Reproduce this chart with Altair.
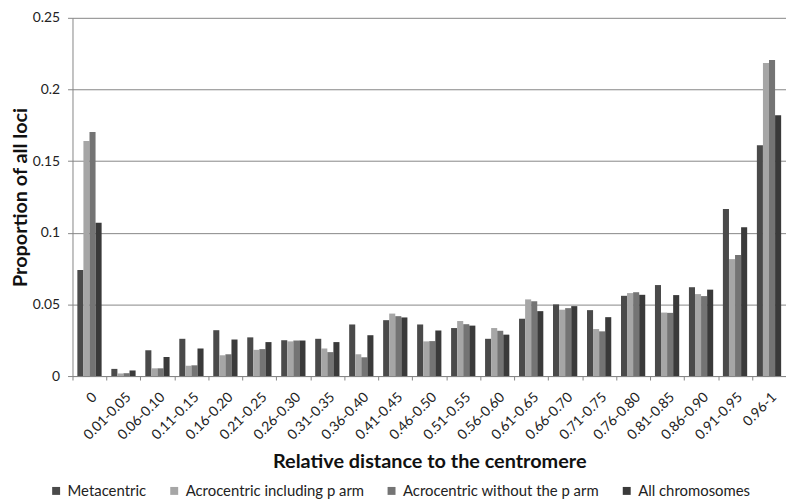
import altair as alt
import pandas as pd

categories = ["0", "0.01-0.05", "0.06-0.10", "0.11-0.15", "0.16-0.20", "0.21-0.25",
              "0.26-0.30", "0.31-0.35", "0.36-0.40", "0.41-0.45", "0.46-0.50",
              "0.51-0.55", "0.56-0.60", "0.61-0.65", "0.66-0.70", "0.71-0.75",
              "0.76-0.80", "0.81-0.85", "0.86-0.90", "0.91-0.95", "0.96-1"]

series = ["Metacentric", "Acrocentric including p arm",
          "Acrocentric without the p arm", "All chromosomes"]

metacentric = [0.074, 0.005, 0.018, 0.026, 0.032, 0.027, 0.025, 0.026, 0.036, 0.039, 0.036,
               0.0335, 0.026, 0.040, 0.050, 0.046, 0.056, 0.0635, 0.062, 0.1165, 0.161]
acro_incl_p = [0.164, 0.0018, 0.0054, 0.0072, 0.0145, 0.0183, 0.0242, 0.0192, 0.0152, 0.0436, 0.0242,
               0.0384, 0.0335, 0.0535, 0.0463, 0.0328, 0.0579, 0.0443, 0.0572, 0.0816, 0.2184]
acro_without_p = [0.1703, 0.002, 0.0054, 0.0075, 0.0152, 0.0188, 0.0248, 0.0167, 0.0131, 0.0418, 0.0244,
                  0.0362, 0.0316, 0.0522, 0.0474, 0.0312, 0.0585, 0.0441, 0.0558, 0.0845, 0.2205]
all_chrom = [0.107, 0.0039, 0.0133, 0.0192, 0.0255, 0.0237, 0.0248, 0.0237, 0.0285, 0.0409, 0.0318,
             0.0352, 0.0289, 0.0453, 0.0488, 0.0411, 0.0567, 0.0565, 0.0603, 0.1039, 0.182]

colors = ["#4a4a4a", "#a6a6a6", "#747474", "#3a3a3a"]

rows = []
for s, vals in zip(series, [metacentric, acro_incl_p, acro_without_p, all_chrom]):
    for c, v in zip(categories, vals):
        rows.append({"cat": c, "series": s, "value": v})
df = pd.DataFrame(rows)

FONT = "Lato"

chart = alt.Chart(df).mark_bar().encode(
    x=alt.X("cat:N", sort=categories,
            scale=alt.Scale(paddingInner=0, paddingOuter=0),
            axis=alt.Axis(title="Relative distance to the centromere", labelAngle=-45,
                          tickBand="extent", labelPadding=10, tickSize=4,
                          titleY=86, titleBaseline="middle")),
    xOffset=alt.XOffset("series:N", sort=series,
                        scale=alt.Scale(paddingInner=0, paddingOuter=0.8)),
    y=alt.Y("value:Q", scale=alt.Scale(domain=[0, 0.25]),
            axis=alt.Axis(title="Proportion of all loci", values=[0, 0.05, 0.1, 0.15, 0.2, 0.25],
                          format=".2~f", grid=True, tickSize=5, labelPadding=8,
                          titlePadding=2)),
    color=alt.Color("series:N", sort=series,
                    scale=alt.Scale(domain=series, range=colors),
                    legend=alt.Legend(title=None, orient="none", direction="horizontal",
                                      legendX=-24, legendY=469, symbolType="square",
                                      symbolSize=64, symbolStrokeWidth=0, labelLimit=0,
                                      labelFontSize=15, columnPadding=20, labelOffset=4)),
).properties(
    width=719, height=361,
    autosize=alt.AutoSizeParams(type="none"),
    padding={"left": 65, "top": 8, "right": 0, "bottom": 122},
).configure_view(stroke=None).configure_axis(
    labelFont=FONT, titleFont=FONT, labelFontSize=14, labelColor="#222222",
    titleColor="#111111", titleFontWeight="bold", titleFontSize=20,
    domainColor="#868686", tickColor="#868686", gridColor="#868686",
).configure_axisX(grid=False).configure_legend(labelFont=FONT, labelColor="#222222")

chart.save("out.html", embed_options={"renderer": "svg", "actions": False})
